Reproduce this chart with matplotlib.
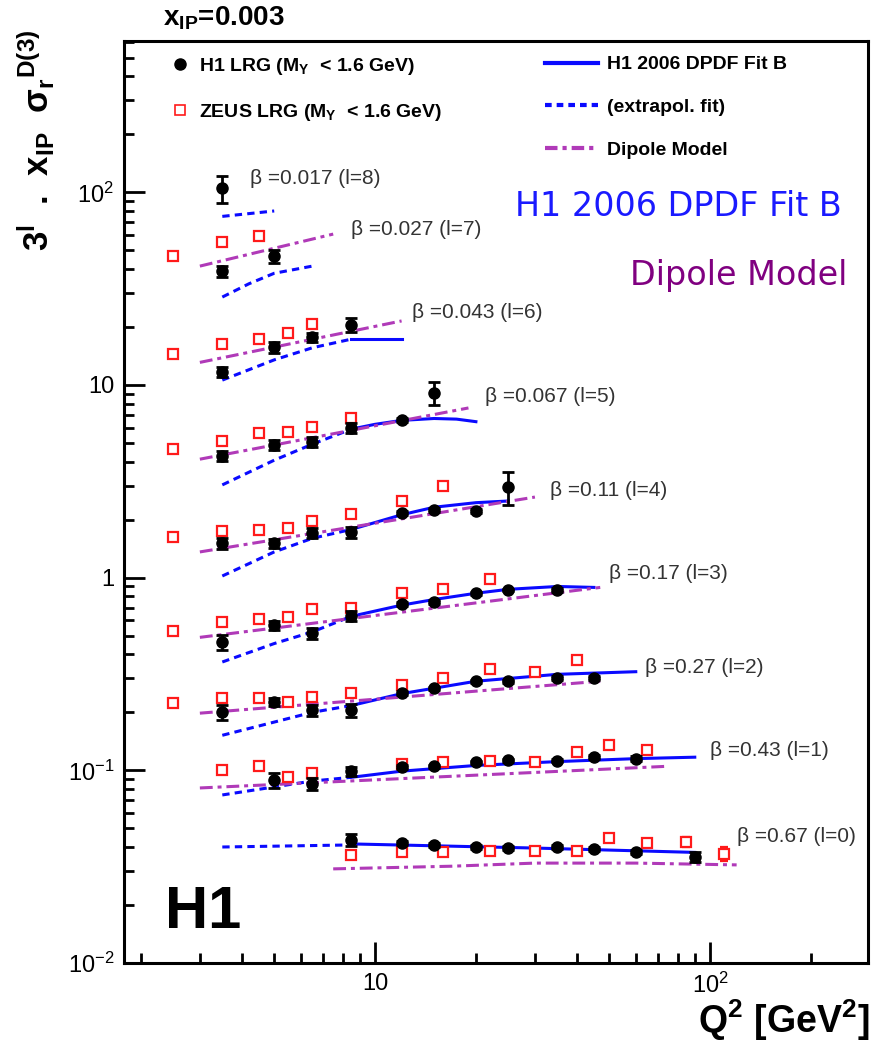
import numpy as np
import matplotlib.pyplot as plt
from matplotlib.lines import Line2D
from matplotlib.ticker import FixedLocator, FixedFormatter, LogLocator, NullFormatter

plt.rcParams['font.family'] = ['Liberation Sans', 'DejaVu Sans']
plt.rcParams['mathtext.fontset'] = 'custom'
plt.rcParams['mathtext.rm'] = 'Liberation Sans'
plt.rcParams['mathtext.bf'] = 'Liberation Sans:bold'
plt.rcParams['mathtext.it'] = 'Liberation Sans:italic'

# beta bins, top (l=8) to bottom (l=0); values already scaled by 3^l
beta_labels = ['β =0.017 (l=8)', 'β =0.027 (l=7)', 'β =0.043 (l=6)', 'β =0.067 (l=5)',
               'β =0.11 (l=4)', 'β =0.17 (l=3)', 'β =0.27 (l=2)', 'β =0.43 (l=1)',
               'β =0.67 (l=0)']
label_q2 = [4.24, 8.5, 12.9, 21.3, 33.3, 50, 64, 100, 120]
label_y = [118, 64, 23.9, 8.75, 2.85, 1.045, 0.34, 0.127, 0.0456]

# H1 LRG data
h1_q2 = [[3.5],
         [3.5, 5],
         [3.5, 5, 6.5, 8.5],
         [3.5, 5, 6.5, 8.5, 12, 15],
         [3.5, 5, 6.5, 8.5, 12, 15, 20, 25],
         [3.5, 5, 6.5, 8.5, 12, 15, 20, 25, 35],
         [3.5, 5, 6.5, 8.5, 12, 15, 20, 25, 35, 45],
         [5, 6.5, 8.5, 12, 15, 20, 25, 35, 45, 60],
         [8.5, 12, 15, 20, 25, 35, 45, 60, 90]]
h1_val = [[105],
          [39, 46.7],
          [11.7, 15.7, 17.7, 20.5],
          [4.27, 4.88, 5.06, 5.98, 6.57, 9.08],
          [1.51, 1.51, 1.70, 1.72, 2.16, 2.24, 2.22, 2.95],
          [0.462, 0.565, 0.516, 0.635, 0.729, 0.747, 0.832, 0.863, 0.863],
          [0.201, 0.226, 0.205, 0.205, 0.252, 0.267, 0.29, 0.29, 0.30, 0.30],
          [0.089, 0.085, 0.099, 0.104, 0.105, 0.110, 0.113, 0.112, 0.117, 0.115],
          [0.0435, 0.042, 0.041, 0.040, 0.0396, 0.040, 0.039, 0.0377, 0.0356]]
h1_err = [[17],
          [2.5, 3.5],
          [0.7, 1.0, 1.0, 1.7],
          [0.25, 0.3, 0.3, 0.35, 0.15, 1.25],
          [0.1, 0.08, 0.1, 0.12, 0.05, 0.05, 0.05, 0.58],
          [0.04, 0.03, 0.035, 0.04, 0.015, 0.015, 0.015, 0.015, 0.02],
          [0.018, 0.01, 0.014, 0.016, 0.005, 0.005, 0.005, 0.005, 0.007, 0.007],
          [0.008, 0.006, 0.005, 0.002, 0.002, 0.002, 0.002, 0.002, 0.003, 0.003],
          [0.003, 0.001, 0.001, 0.001, 0.001, 0.001, 0.001, 0.001, 0.002]]

# ZEUS LRG data
zeus_q2 = [[],
           [2.5, 3.5, 4.5],
           [2.5, 3.5, 4.5, 5.5, 6.5],
           [2.5, 3.5, 4.5, 5.5, 6.5, 8.5],
           [2.5, 3.5, 4.5, 5.5, 6.5, 8.5, 12, 16],
           [2.5, 3.5, 4.5, 5.5, 6.5, 8.5, 12, 16, 22],
           [2.5, 3.5, 4.5, 5.5, 6.5, 8.5, 12, 16, 22, 30, 40],
           [3.5, 4.5, 5.5, 6.5, 12, 16, 22, 30, 40, 50, 65],
           [8.5, 12, 16, 22, 30, 40, 50, 65, 85, 110]]
zeus_val = [[],
            [46.7, 55, 59],
            [14.5, 16.3, 17.3, 18.6, 20.7],
            [4.65, 5.11, 5.62, 5.70, 6.04, 6.73],
            [1.63, 1.75, 1.77, 1.81, 1.97, 2.14, 2.50, 2.99],
            [0.528, 0.589, 0.610, 0.625, 0.687, 0.70, 0.83, 0.873, 0.98],
            [0.223, 0.237, 0.237, 0.226, 0.24, 0.252, 0.277, 0.30, 0.336, 0.324, 0.373],
            [0.100, 0.105, 0.092, 0.097, 0.108, 0.11, 0.112, 0.11, 0.124, 0.135, 0.127],
            [0.0363, 0.0377, 0.0377, 0.0381, 0.0381, 0.038, 0.0446, 0.042, 0.0424, 0.037]]
zeus_err = [[],
            [1.0, 1.2, 1.3],
            [0.3, 0.35, 0.35, 0.4, 0.5],
            [0.1, 0.1, 0.12, 0.12, 0.13, 0.15],
            [0.03, 0.04, 0.04, 0.04, 0.04, 0.05, 0.06, 0.08],
            [0.01, 0.012, 0.012, 0.013, 0.015, 0.016, 0.02, 0.02, 0.03],
            [0.004, 0.005, 0.005, 0.005, 0.005, 0.006, 0.007, 0.008, 0.01, 0.01, 0.015],
            [0.002, 0.002, 0.002, 0.002, 0.002, 0.002, 0.003, 0.003, 0.005, 0.006, 0.006],
            [0.001, 0.001, 0.001, 0.001, 0.001, 0.001, 0.002, 0.002, 0.0025, 0.003]]

# H1 2006 DPDF Fit B (solid) and its extrapolation (dashed)
fit_q2 = [[],
          [],
          [8.5, 12],
          [8.5, 10, 12, 15, 17.5, 20],
          [8.5, 12, 15, 20, 25],
          [8.5, 12, 15, 20, 25, 35, 45],
          [8.5, 12, 20, 35, 60],
          [8.5, 12, 20, 35, 60, 90],
          [8.5, 30, 90]]
fit_val = [[],
           [],
           [17.3, 17.3],
           [5.9, 6.25, 6.55, 6.7, 6.65, 6.45],
           [1.78, 2.12, 2.32, 2.45, 2.5],
           [0.63, 0.72, 0.77, 0.83, 0.87, 0.9, 0.89],
           [0.217, 0.25, 0.29, 0.315, 0.325],
           [0.092, 0.099, 0.106, 0.111, 0.115, 0.117],
           [0.0415, 0.0395, 0.0375]]
ext_q2 = [[3.5, 5],
          [3.5, 4.2, 5, 6.5],
          [3.5, 5, 6.5, 8.5],
          [3.5, 5, 6.5, 8.5],
          [3.5, 5, 6.5, 8.5],
          [3.5, 5, 6.5, 8.5],
          [3.5, 5, 6.5, 8.5],
          [3.5, 5, 6.5, 8.5],
          [3.5, 8.5]]
ext_val = [[75, 80],
           [28.6, 33.5, 38, 41.4],
           [10.6, 13.5, 15.6, 17.3],
           [3.03, 4.07, 4.93, 5.9],
           [1.02, 1.36, 1.6, 1.78],
           [0.365, 0.455, 0.523, 0.63],
           [0.152, 0.178, 0.20, 0.217],
           [0.0745, 0.082, 0.088, 0.092],
           [0.040, 0.041]]

# Dipole model
dip_q2 = [[],
          [3, 7.5],
          [3, 12],
          [3, 19],
          [3, 30],
          [3, 47],
          [3, 47],
          [3, 75],
          [7.5, 17, 30, 60, 120]]
dip_val = [[],
           [41.4, 60.7],
           [13.1, 21.5],
           [4.12, 7.6],
           [1.36, 2.62],
           [0.49, 0.89],
           [0.198, 0.29],
           [0.081, 0.105],
           [0.0308, 0.0318, 0.033, 0.033, 0.0323]]

blue = '#0a0aff'
purple = '#b03ab8'
red = '#ff1a1a'
ext_ls = (0, (2.4, 1.7))
dip_ls = (0, (4.2, 1.6, 1.3, 1.6))

fig = plt.figure(figsize=(8.75, 10.45), dpi=100)
ax = fig.add_axes([124 / 875, 82 / 1045, 744 / 875, 922 / 1045])
ax.set_xscale('log')
ax.set_yscale('log')

for i in range(len(beta_labels)):
    if ext_q2[i]:
        ax.plot(ext_q2[i], ext_val[i], color=blue, lw=2.2, ls=ext_ls, zorder=2)
    if fit_q2[i]:
        ax.plot(fit_q2[i], fit_val[i], color=blue, lw=2.2, zorder=2)
    if dip_q2[i]:
        ax.plot(dip_q2[i], dip_val[i], color=purple, lw=2.2, ls=dip_ls, zorder=2)
    if zeus_q2[i]:
        ax.errorbar(zeus_q2[i], zeus_val[i], yerr=zeus_err[i], fmt='s', ms=7,
                    mfc='white', mec=red, mew=1.6, ecolor=red, elinewidth=1.8,
                    capsize=3, capthick=1.8, zorder=3)
    ax.errorbar(h1_q2[i], h1_val[i], yerr=h1_err[i], fmt='o', ms=8,
                color='black', ecolor='black', elinewidth=2, capsize=4,
                capthick=2, zorder=4)
    ax.text(label_q2[i], label_y[i], beta_labels[i], fontsize=15, color='#333333',
            ha='left', va='center')

ax.set_xlim(1.781, 296)
ax.set_ylim(0.01, 610)

ax.yaxis.set_major_locator(FixedLocator([0.01, 0.1, 1, 10, 100]))
ax.yaxis.set_major_formatter(FixedFormatter(['$10^{-2}$', '$10^{-1}$', '1', '10', '$10^{2}$']))
ax.yaxis.set_minor_locator(LogLocator(base=10, subs=np.arange(2, 10), numticks=20))
ax.yaxis.set_minor_formatter(NullFormatter())
ax.xaxis.set_major_locator(FixedLocator([10, 100]))
ax.xaxis.set_major_formatter(FixedFormatter(['10', '$10^{2}$']))
ax.xaxis.set_minor_locator(LogLocator(base=10, subs=np.arange(2, 10), numticks=20))
ax.xaxis.set_minor_formatter(NullFormatter())
ax.tick_params(which='both', direction='in', width=2, top=False, right=False)
ax.tick_params(which='major', length=15, labelsize=17, pad=7)
ax.tick_params(which='minor', length=7.5)
for s in ax.spines.values():
    s.set_linewidth(2.2)

# legends
leg1 = ax.legend(handles=[Line2D([], [], ls='none', marker='o', ms=8, color='black'),
                          Line2D([], [], ls='none', marker='s', ms=7, mfc='white',
                                 mec=red, mew=1.2)],
                 labels=['H1 LRG (M$_{\\mathbf{Y}}$  < 1.6 GeV)',
                         'ZEUS LRG (M$_{\\mathbf{Y}}$  < 1.6 GeV)'],
                 loc='upper left', bbox_to_anchor=(0.062, 0.984), frameon=False,
                 prop={'weight': 'bold', 'size': 14}, handlelength=1.0,
                 handletextpad=0.5, labelspacing=1.3, borderpad=0, borderaxespad=0)
ax.add_artist(leg1)
ax.legend(handles=[Line2D([], [], color=blue, lw=3),
                   Line2D([], [], color=blue, lw=3, ls=(0, (1.6, 1.2))),
                   Line2D([], [], color=purple, lw=3, ls=(0, (3, 1.2, 1, 1.2)))],
          labels=['H1 2006 DPDF Fit B', '(extrapol. fit)', 'Dipole Model'],
          loc='upper left', bbox_to_anchor=(0.566, 0.984), frameon=False,
          prop={'weight': 'bold', 'size': 14}, handlelength=2.7,
          handletextpad=0.5, labelspacing=1.3, borderpad=0, borderaxespad=0)

ax.text(0.526, 0.820, 'H1 2006 DPDF Fit B', transform=ax.transAxes, color='#1a1aff',
        fontsize=24, family='DejaVu Sans', ha='left', va='center')
ax.text(0.680, 0.746, 'Dipole Model', transform=ax.transAxes, color='#800080',
        fontsize=24, family='DejaVu Sans', ha='left', va='center')
ax.text(0.055, 0.038, 'H1', transform=ax.transAxes, fontsize=43, fontweight='bold',
        ha='left', va='baseline')

fig.text(163 / 875, 1 - 18 / 1045, 'x$_{\\mathbf{IP}}$=0.003', fontsize=20,
         fontweight='bold', ha='left', va='center')
fig.text(36 / 875, 1 - 30 / 1045,
         '3$^{\\mathbf{l}}$  .  x$_{\\mathbf{IP}}$  $\\mathbf{\\sigma_{r}}$$^{\\mathbf{D(3)}}$',
         fontsize=25, fontweight='bold', rotation=90, ha='center', va='top')
fig.text(870 / 875, 1 - 1020 / 1045, 'Q$^{\\mathbf{2}}$ [GeV$^{\\mathbf{2}}$]',
         fontsize=27, fontweight='bold', ha='right', va='center')

fig.savefig('out.png', dpi=100)
